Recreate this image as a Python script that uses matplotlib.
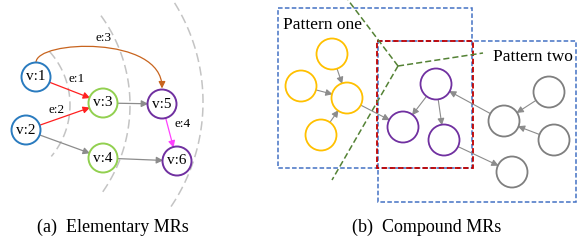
import matplotlib
matplotlib.use("Agg")
import matplotlib.pyplot as plt
from matplotlib.patches import Circle, Rectangle, FancyArrowPatch
from matplotlib.path import Path
import numpy as np

plt.rcParams['font.family'] = ['Liberation Serif', 'DejaVu Serif']

# ---- panel (a): elementary MRs ----
a_names = ['v:1', 'v:2', 'v:3', 'v:4', 'v:5', 'v:6']
a_x = [36, 26, 103, 103, 162, 177]
a_y = [77, 130, 103, 158, 104, 161]
a_colors = ['#2a7bbf', '#2a7bbf', '#92d050', '#92d050', '#7030a0', '#7030a0']
# (from, to, colour, label)
a_edges = [(0, 2, '#ff2020', 'e:1'),
           (1, 2, '#ff2020', 'e:2'),
           (2, 4, '#8c8c8c', ''),
           (1, 3, '#8c8c8c', ''),
           (3, 5, '#8c8c8c', ''),
           (4, 5, '#ff40ff', 'e:4')]
a_label_xy = {'e:1': (77, 79), 'e:2': (57, 110), 'e:4': (183, 124)}
# dashed rings: (centre x, centre y, radius, start deg, end deg)
rings = [(-10, 105, 80, -42, 40),
         (-22, 105, 152, -36, 36),
         (16, 102, 187, -32, 34)]

# ---- panel (b): compound MRs ----
yellow_x = [332, 301, 347, 321]
yellow_y = [54, 86, 98, 135]
purple_x = [436, 403, 444]
purple_y = [84, 127, 140]
gray_x = [549, 504, 554, 512]
gray_y = [92, 121, 140, 172]
# node ids: y0..y3, p0..p2, g0..g3
b_edges = [('y0', 'y2'), ('y1', 'y2'), ('y3', 'y2'), ('y2', 'p1'),
           ('p0', 'p1'), ('p0', 'p2'), ('g1', 'p0'), ('g0', 'g1'),
           ('g2', 'g1'), ('p2', 'g3')]

fig = plt.figure(figsize=(5.77, 2.41), dpi=100)
ax = fig.add_axes([0, 0, 1, 1])
ax.set_xlim(0, 577)
ax.set_ylim(241, 0)
ax.axis('off')

R = 14.5
for cx, cy, rr, t1, t2 in rings:
    ang = np.radians(np.linspace(t1, t2, 100))
    ax.plot(cx + rr * np.cos(ang), cy + rr * np.sin(ang), color='#c4c4c4',
            lw=1.1, ls=(0, (6, 3)), zorder=1)

a_circ = []
for name, x, y, c in zip(a_names, a_x, a_y, a_colors):
    circ = Circle((x, y), R, fc='white', ec=c, lw=1.4, zorder=3)
    ax.add_patch(circ)
    a_circ.append(circ)
    ax.text(x, y, name, ha='center', va='center', fontsize=11, zorder=4)

for s, d, c, lab in a_edges:
    arr = FancyArrowPatch((a_x[s], a_y[s]), (a_x[d], a_y[d]),
                          patchA=a_circ[s], patchB=a_circ[d],
                          arrowstyle='-|>', mutation_scale=10, lw=0.9,
                          color=c, shrinkA=0, shrinkB=0, zorder=2)
    ax.add_patch(arr)
    if lab:
        ax.text(*a_label_xy[lab], lab, ha='center', va='center', fontsize=9.5)

# e:3, curved edge v:1 -> v:5
p0 = (a_x[0], a_y[0] - R)
p3 = (a_x[4], a_y[4] - R - 1)
curve = Path([p0, (p0[0], 40), (p3[0], 35), p3],
             [Path.MOVETO, Path.CURVE4, Path.CURVE4, Path.CURVE4])
ax.add_patch(FancyArrowPatch(path=curve, arrowstyle='-|>', mutation_scale=10,
                             lw=0.9, color='#c8641e', zorder=2))
ax.text(104, 38, 'e:3', ha='center', va='center', fontsize=9.5)

# ---- panel (b) drawing ----
ax.add_patch(Rectangle((278, 8), 194, 160, fill=False, ec='#4472c4', lw=1.1,
                       ls=(0, (3, 1.5)), zorder=1))
ax.add_patch(Rectangle((378, 41), 198, 161, fill=False, ec='#4472c4', lw=1.1,
                       ls=(0, (3, 1.5)), zorder=1))
ax.add_patch(Rectangle((377, 41), 96, 127, fill=False, ec='#c00000', lw=1.3,
                       ls=(0, (3, 1.5)), zorder=1.5))
hub = (398, 66)
for ex, ey in [(348, 0), (483, 53), (332, 180)]:
    ax.plot([hub[0], ex], [hub[1], ey], color='#548235', lw=1.1,
            ls=(0, (4, 2)), zorder=1.6)

ax.text(283, 25, 'Pattern one', ha='left', va='center', fontsize=12.5)
ax.text(493, 57, 'Pattern two', ha='left', va='center', fontsize=12.5)

rb = 15.5
b_circ = {}
for pre, xs, ys, c in [('y', yellow_x, yellow_y, '#ffc000'),
                       ('p', purple_x, purple_y, '#7030a0'),
                       ('g', gray_x, gray_y, '#7f7f7f')]:
    for i, (x, y) in enumerate(zip(xs, ys)):
        circ = Circle((x, y), rb, fc='white', ec=c, lw=1.3, zorder=3)
        ax.add_patch(circ)
        b_circ[pre + str(i)] = circ

for s, d in b_edges:
    ax.add_patch(FancyArrowPatch(b_circ[s].center, b_circ[d].center,
                                 patchA=b_circ[s], patchB=b_circ[d],
                                 arrowstyle='-|>', mutation_scale=10, lw=0.8,
                                 color='#8c8c8c', shrinkA=0, shrinkB=0,
                                 zorder=2))

ax.text(113, 227, '(a)  Elementary MRs', ha='center', va='center', fontsize=13)
ax.text(427, 227, '(b)  Compound MRs', ha='center', va='center', fontsize=13)

fig.savefig('out.png', dpi=100)
